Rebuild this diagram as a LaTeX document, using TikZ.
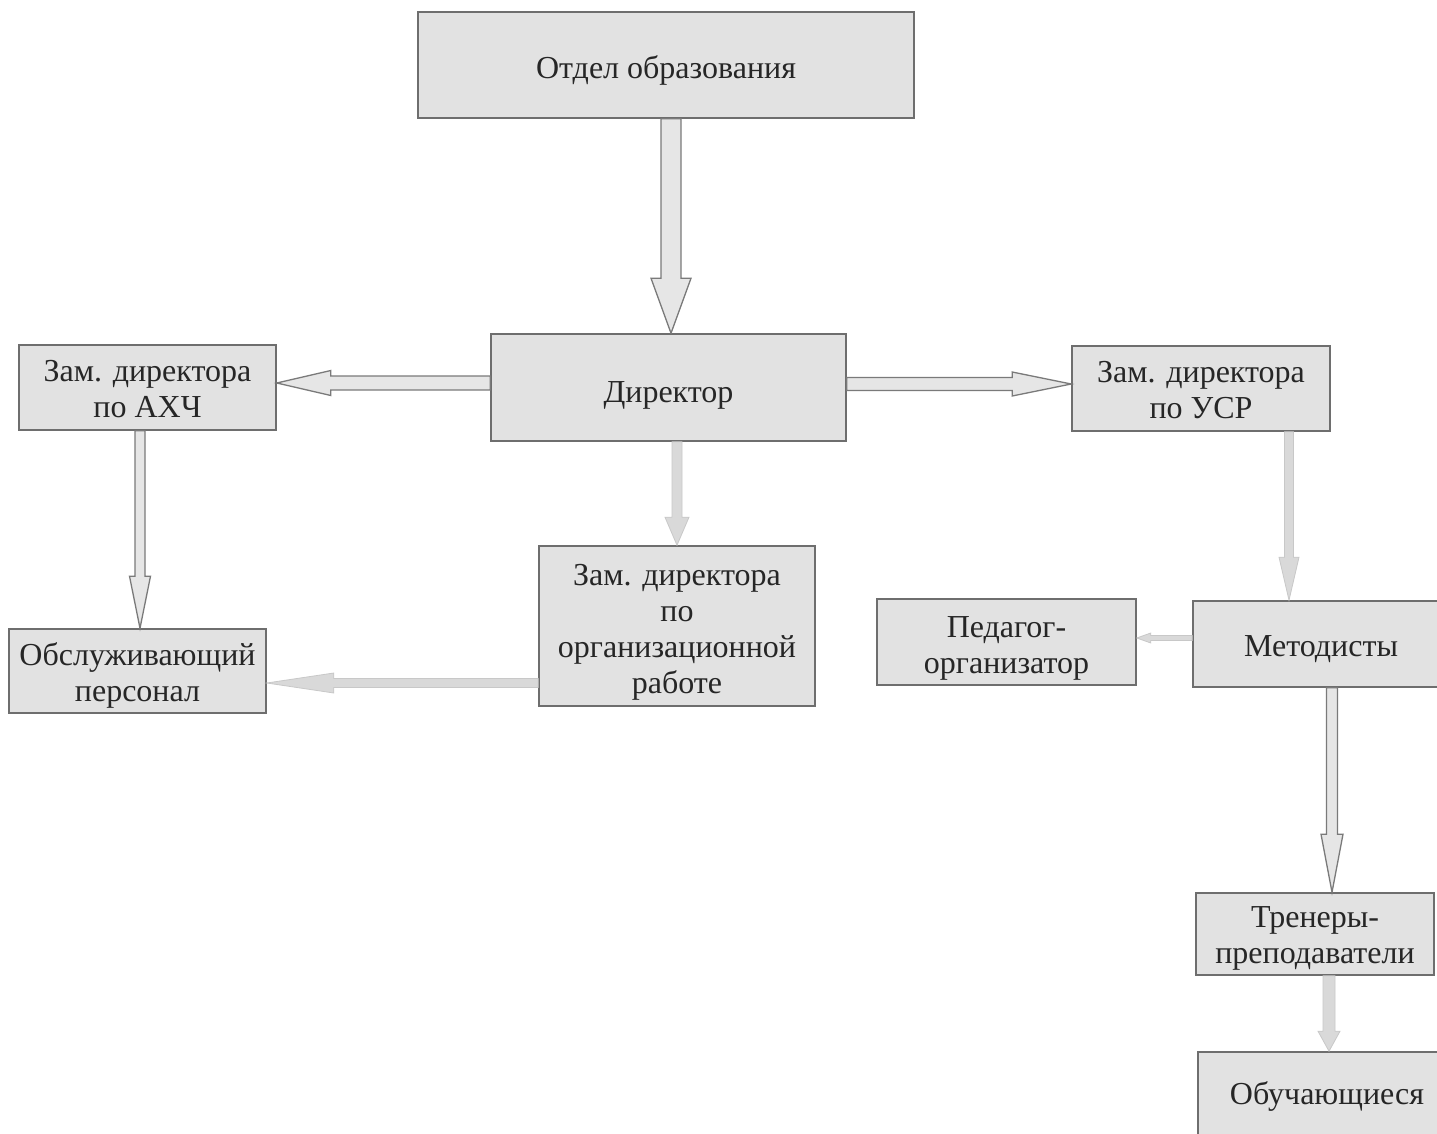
\documentclass[tikz,border=0pt]{standalone}
\usepackage{fontspec}
\setmainfont{Liberation Serif}
\usetikzlibrary{calc}
\definecolor{boxfill}{HTML}{E2E2E2}
\definecolor{boxline}{HTML}{6E6E6E}
\definecolor{arrfill}{HTML}{E6E6E6}
\definecolor{arrline}{HTML}{7A7A7A}
\definecolor{lightfill}{HTML}{D9D9D9}
\definecolor{lightline}{HTML}{C8C8C8}
\newcommand\boxlines[2]{\raisebox{-#1pt}[\height][\depth]{\begin{tabular}{@{}c@{}}#2\end{tabular}}}
\tikzset{
  boxtext/.style={font=\fontsize{32}{36}\selectfont, text=black!85},
  box/.style={draw=boxline, fill=boxfill, line width=1.6pt, inner sep=0pt, boxtext},
  boldarrow/.style={draw=arrline, fill=arrfill, line width=1.3pt, line join=miter},
  lightarrow/.style={draw=lightline, fill=lightfill, line width=0.8pt, line join=miter}
}
% #1 style, #2 from, #3 to, #4 half shaft, #5 half head, #6 head length
\newcommand\blockarrow[6]{%
  \path let \p1=(#2), \p2=(#3), \n1={atan2(\y2-\y1,\x2-\x1)}, \n2={veclen(\x2-\x1,\y2-\y1)} in
    [#1, shift={(\p1)}, rotate=\n1]
    (0pt,-#4pt) -- ({(\n2-#6)*1pt},-#4pt) -- ({(\n2-#6)*1pt},-#5pt) -- ({\n2*1pt},0pt)
    -- ({(\n2-#6)*1pt},#5pt) -- ({(\n2-#6)*1pt},#4pt) -- (0pt,#4pt) -- cycle;}
\begin{document}
\begin{tikzpicture}[x=1pt,y=-1pt]
\clip (0,0) rectangle (1437,1134);
\fill[white] (0,0) rectangle (1437,1134);
% boxes
\node[box, minimum width=496pt, minimum height=106pt] (otdel) at (666,65) {\boxlines{6}{Отдел образования}};
\node[box, minimum width=355pt, minimum height=107pt] (dir) at (668.5,387.5) {\boxlines{8}{Директор}};
\node[box, minimum width=257pt, minimum height=85pt] (axc) at (147.5,387.5) {\boxlines{5}{Зам. директора\\по АХЧ}};
\node[box, minimum width=258pt, minimum height=85pt] (usr) at (1201,388.5) {\boxlines{5}{Зам. директора\\по УСР}};
\node[box, minimum width=276pt, minimum height=160pt] (org) at (677,626) {\boxlines{6}{Зам. директора\\по\\организационной\\работе}};
\node[box, minimum width=257pt, minimum height=84pt] (obs) at (137.5,671) {\boxlines{5}{Обслуживающий\\персонал}};
\node[box, minimum width=259pt, minimum height=86pt] (ped) at (1006.5,642) {\boxlines{6}{Педагог-\\организатор}};
\node[box, minimum width=256pt, minimum height=86pt] (met) at (1321,644) {\boxlines{5}{Методисты}};
\node[box, minimum width=238pt, minimum height=82pt] (tren) at (1315,934) {\boxlines{4}{Тренеры-\\преподаватели}};
\node[box, minimum width=258pt, minimum height=110pt] (obuch) at (1327,1107) {};
\node[boxtext] (obuchtext) at (1327,1096) {Обучающиеся};
% arrow alignment coordinates
\coordinate (c1) at (671,0);
\coordinate (c2) at (0,383);
\coordinate (c3) at (0,384);
\coordinate (c4) at (140,0);
\coordinate (c5) at (677,0);
\coordinate (c6) at (0,683);
\coordinate (c7) at (1289,0);
\coordinate (c8) at (0,638);
\coordinate (c9) at (1332,0);
\coordinate (c10) at (1329,0);
% arrows
\blockarrow{boldarrow}{otdel.south -| c1}{dir.north -| c1}{10}{20}{55}
\blockarrow{boldarrow}{dir.west |- c2}{axc.east |- c2}{7}{12.5}{54}
\blockarrow{boldarrow}{dir.east |- c3}{usr.west |- c3}{6.5}{12}{59}
\blockarrow{boldarrow}{axc.south -| c4}{obs.north -| c4}{5}{10.5}{52}
\blockarrow{lightarrow}{dir.south -| c5}{org.north -| c5}{5}{12}{28}
\blockarrow{lightarrow}{org.west |- c6}{obs.east |- c6}{4.5}{10}{67}
\blockarrow{lightarrow}{usr.south -| c7}{met.north -| c7}{4.5}{10}{43}
\blockarrow{lightarrow}{met.west |- c8}{ped.east |- c8}{2.5}{5}{14}
\blockarrow{boldarrow}{met.south -| c9}{tren.north -| c9}{5.5}{11}{58}
\blockarrow{lightarrow}{tren.south -| c10}{obuch.north -| c10}{6}{11}{20}
\end{tikzpicture}
\end{document}
